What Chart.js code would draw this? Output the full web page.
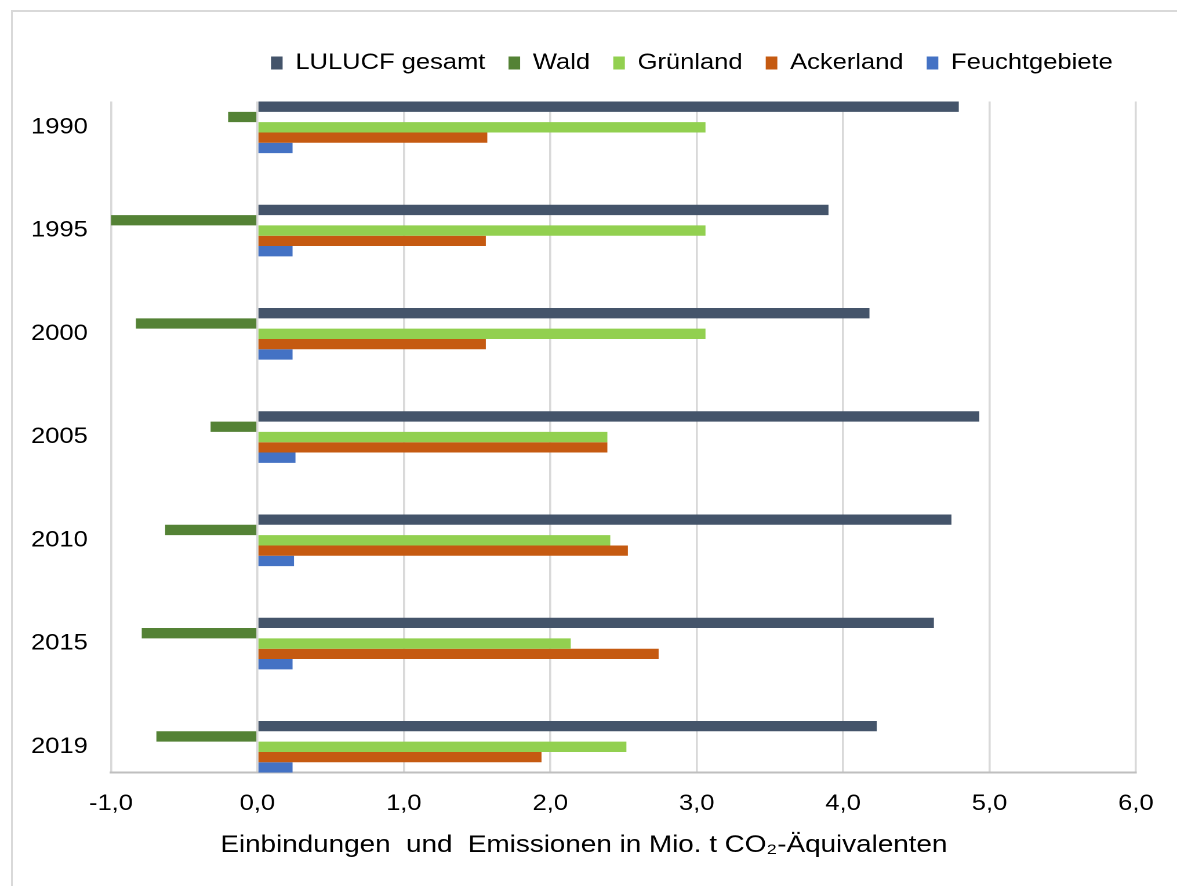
<!DOCTYPE html>
<html>
<head>
<meta charset="utf-8">
<title>LULUCF – Einbindungen und Emissionen</title>
<script src="https://cdn.jsdelivr.net/npm/chart.js@4.4.1/dist/chart.umd.min.js"></script>
<style>
  html, body { margin: 0; padding: 0; background: #fff; overflow: hidden; }
  #frame {
    position: absolute; left: 11px; top: 10px; width: 1400px; height: 1000px;
    border-left: 2px solid #d9d9d9; border-top: 2px solid #d9d9d9;
  }
  /* chart is laid out on a narrower canvas and widened to 1177px */
  #wrap {
    position: absolute; left: 0; top: 0; width: 1015px; height: 886px;
    transform: scaleX(1.15961); transform-origin: 0 0;
  }
</style>
</head>
<body>
<div id="frame"></div>
<div id="wrap"><canvas id="c" width="1015" height="886"></canvas></div>
<script>
// Jahre (Kategorien)
const years = ['1990', '1995', '2000', '2005', '2010', '2015', '2019'];

// Einbindungen (-) und Emissionen (+) in Mio. t CO2-Äquivalenten
const lulucfGesamt  = [4.79, 3.90, 4.18, 4.93, 4.74, 4.62, 4.23];
const wald          = [-0.20, -1.01, -0.83, -0.32, -0.63, -0.79, -0.69];
const gruenland     = [3.06, 3.06, 3.06, 2.39, 2.41, 2.14, 2.52];
const ackerland     = [1.57, 1.56, 1.56, 2.39, 2.53, 2.74, 1.94];
const feuchtgebiete = [0.24, 0.24, 0.24, 0.26, 0.25, 0.24, 0.24];

// x-Achse
const xTicks = [-1, 0, 1, 2, 3, 4, 5, 6];
const axisTitle = 'Einbindungen  und  Emissionen in Mio. t CO\u2082-\u00C4quivalenten';

const FONT = "'Liberation Sans', Arial, sans-serif";

const series = [
  { label: 'LULUCF gesamt', values: lulucfGesamt,  color: '#44546a' },
  { label: 'Wald',          values: wald,          color: '#548235' },
  { label: 'Grünland',      values: gruenland,     color: '#92d050' },
  { label: 'Ackerland',     values: ackerland,     color: '#c55a11' },
  { label: 'Feuchtgebiete', values: feuchtgebiete, color: '#4472c4' }
];

// y range: half a band above the first and below the last year
const yMin = -0.25;
const yMax = years.length - 0.75;

// extra space between legend and plot area; title centred on the full width
const layoutTweaks = {
  id: 'layoutTweaks',
  beforeInit(chart) {
    const fit = chart.legend.fit;
    chart.legend.fit = function () {
      fit.call(this);
      this.height = 69.5;
    };
  },
  afterLayout(chart) {
    if (chart.titleBlock) {
      chart.titleBlock.left = 0;
      chart.titleBlock.right = chart.width - 8;
    }
  }
};

new Chart(document.getElementById('c'), {
  type: 'bar',
  data: {
    datasets: series.map(s => ({
      label: s.label,
      data: s.values.map((v, i) => ({ x: v, y: i })),
      backgroundColor: s.color,
      borderWidth: 0,
      categoryPercentage: 0.5,
      barPercentage: 1.0
    }))
  },
  options: {
    indexAxis: 'y',
    responsive: false,
    animation: false,
    devicePixelRatio: 2,
    layout: { padding: { left: 0, right: 35.4, top: 32, bottom: 0 } },
    scales: {
      x: {
        type: 'linear',
        position: 'bottom',
        min: xTicks[0],
        max: xTicks[xTicks.length - 1],
        afterBuildTicks: axis => { axis.ticks = xTicks.map(v => ({ value: v })); },
        afterFit: axis => { axis.height = 58.6; },
        grid: { color: '#d9d9d9', lineWidth: 1.8, drawTicks: false },
        border: { display: true, color: '#bfbfbf', width: 2 },
        ticks: {
          font: { family: FONT, size: 22 },
          color: '#000',
          padding: 18,
          maxRotation: 0,
          autoSkip: false,
          callback: v => v.toFixed(1).replace('.', ',')
        }
      },
      y: {
        type: 'linear',
        reverse: true,
        offset: false,
        min: yMin,
        max: yMax,
        afterBuildTicks: axis => {
          axis.ticks = years.map((_, i) => ({ value: i }));
          axis.min = yMin;
          axis.max = yMax;
        },
        afterFit: axis => { axis.width = 95.7; },
        grid: { display: false, drawTicks: false, offset: false },
        border: { display: false },
        ticks: {
          font: { family: FONT, size: 22 },
          color: '#000',
          padding: 20,
          autoSkip: false,
          callback: v => years[v]
        }
      }
    },
    plugins: {
      legend: {
        position: 'top',
        align: 'end',
        labels: {
          font: { family: FONT, size: 22 },
          color: '#000',
          boxWidth: 10,
          boxHeight: 13,
          padding: 20
        }
      },
      title: {
        display: true,
        position: 'bottom',
        text: axisTitle,
        color: '#000',
        font: { family: FONT, size: 24, weight: 'normal' },
        padding: { top: 0, bottom: 26 }
      },
      tooltip: { enabled: false }
    }
  },
  plugins: [layoutTweaks]
});
</script>
</body>
</html>
